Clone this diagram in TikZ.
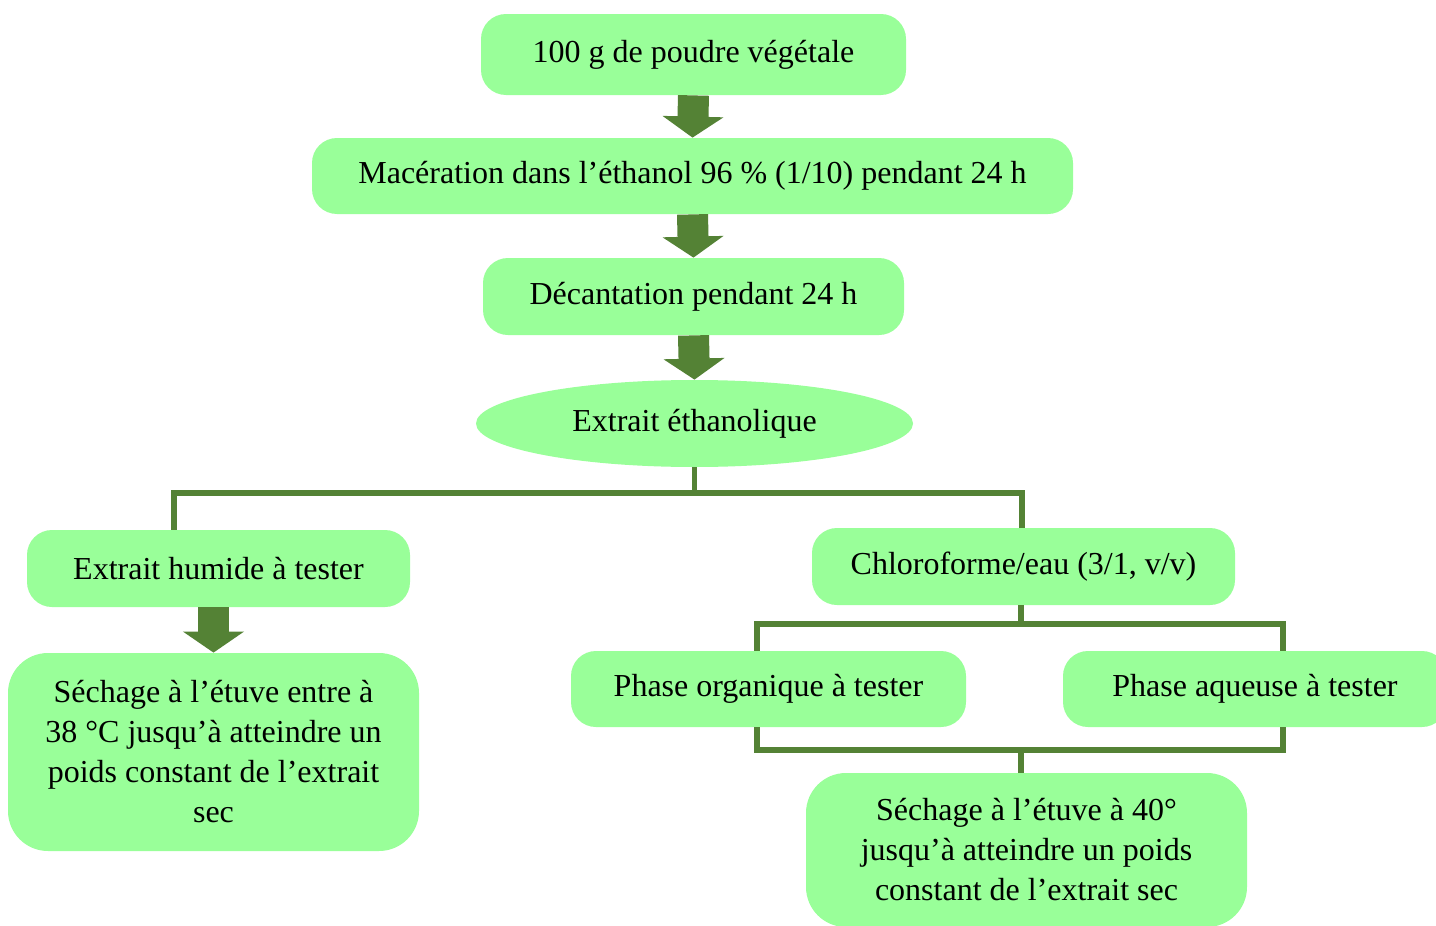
\documentclass[tikz,border=0pt]{standalone}
\usepackage{fontspec}
\setmainfont{Liberation Serif}
\usetikzlibrary{shapes.geometric,arrows.meta,calc}
\definecolor{boxg}{RGB}{153,255,153}
\definecolor{darkg}{RGB}{84,130,53}
\tikzset{
  box/.style={fill=boxg, rounded corners=12.5pt, align=center, inner sep=0pt,
    font=\fontsize{16}{20}\selectfont},
  oval/.style={ellipse, fill=boxg, align=center, inner sep=0pt,
    font=\fontsize{16}{20}\selectfont},
  barrow/.style={draw=darkg, line width=15.5pt,
    -{Triangle[width=30pt,length=10.5pt]}},
  conn/.style={draw=darkg, line width=2.6pt, line join=miter}
}
\begin{document}
\begin{tikzpicture}[x=0.5pt,y=-0.5pt]
\useasboundingbox[fill=white] (0,0) rectangle (1436,926);
\begin{scope}
\clip (0,0) rectangle (1436,926);
\node[box, minimum width=212.5pt, minimum height=40.5pt] (n1) at (693.5,54.5) {100 g de poudre végétale};
\node[box, minimum width=380.5pt, minimum height=38pt] (n2) at (692.5,176) {Macération dans l’éthanol 96 \% (1/10) pendant 24 h};
\node[box, minimum width=210.5pt, minimum height=38.5pt] (n3) at (693.5,296.5) {Décantation pendant 24 h};
\node[oval, minimum width=218.5pt, minimum height=43.5pt] (n4) at (694.5,423.5) {Extrait éthanolique};
\node[box, minimum width=191.5pt, minimum height=38.5pt] (n5) at (218.5,568.5) {Extrait humide à tester};
\node[box, minimum width=211.5pt, minimum height=38.5pt] (n6) at (1023.5,566.5) {Chloroforme/eau (3/1, v/v)};
\node[box, rounded corners=20pt, minimum width=205.5pt, minimum height=99pt] (n7) at (213.5,752) {Séchage à l’étuve entre à\\38 °C jusqu’à atteindre un\\poids constant de l’extrait\\sec};
\node[box, minimum width=197.5pt, minimum height=38pt] (n8) at (768.5,689) {Phase organique à tester};
\node[box, minimum width=192pt, minimum height=38pt] (n9) at (1255,689) {Phase aqueuse à tester};
\node[box, rounded corners=20pt, minimum width=220.5pt, minimum height=77pt] (n10) at (1026.5,850) {Séchage à l’étuve à 40°\\jusqu’à atteindre un poids\\constant de l’extrait sec};

\draw[barrow] (n1.south) -- (n2.north);
\draw[barrow] (n2.south) -- (n3.north);
\draw[barrow] (n3.south) -- (n4.north);
\draw[barrow] (n5.south -| n7.north) -- (n7.north);

\coordinate (l1) at (174,493);
\coordinate (r1) at (1022,493);
\draw[conn] (n4.south) -- (n4.south |- l1);
\draw[conn] (n5.north -| l1) -- (l1) -- (r1) -- (n6.north -| r1);

\coordinate (j2) at (1021,624);
\coordinate (l2) at (757,624);
\coordinate (r2) at (1283,624);
\draw[conn] (n6.south -| j2) -- (j2);
\draw[conn] (n8.north -| l2) -- (l2) -- (r2) -- (n9.north -| r2);

\coordinate (j3) at (1021,750);
\coordinate (l3) at (757,750);
\coordinate (r3) at (1283,750);
\draw[conn] (n8.south -| l3) -- (l3) -- (r3) -- (n9.south -| r3);
\draw[conn] (j3) -- (n10.north -| j3);
\end{scope}
\end{tikzpicture}
\end{document}
